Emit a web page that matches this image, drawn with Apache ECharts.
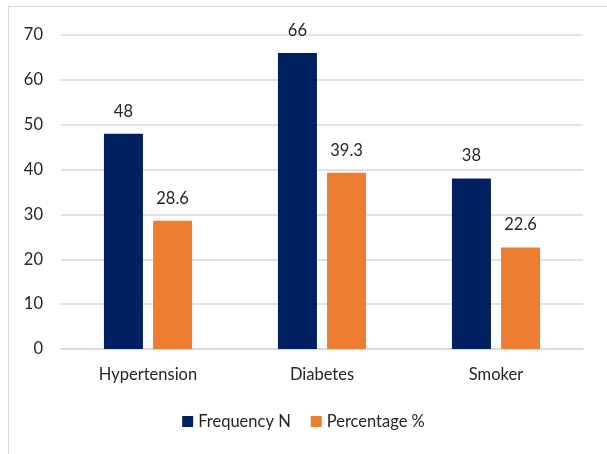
<!DOCTYPE html>
<html>
<head>
<meta charset="utf-8">
<script src="https://cdn.jsdelivr.net/npm/echarts@6/dist/echarts.min.js"></script>
<style>
  html, body { margin: 0; padding: 0; background: #fff; }
  #frame { position: absolute; left: 8px; top: 6px; width: 620px; height: 470px; border: 1px solid #d9d9d9; box-sizing: border-box; }
  #chart { position: absolute; left: 0; top: 0; width: 607px; height: 454px; }
</style>
</head>
<body>
<div id="frame"></div>
<div id="chart"></div>
<script>
const categories = ["Hypertension", "Diabetes", "Smoker"];
const frequencyN = [48, 66, 38];
const percentage = [28.6, 39.3, 22.6];
const seriesNames = ["Frequency N", "Percentage %"];

const chart = echarts.init(document.getElementById("chart"));
const font = "Lato, 'Open Sans', sans-serif";
const textColor = "#262626";

chart.setOption({
  animation: false,
  textStyle: { fontFamily: font },
  grid: { left: 61, right: 24, top: 35, bottom: 105 },
  legend: {
    data: seriesNames,
    bottom: 19,
    left: "center",
    itemWidth: 11,
    itemHeight: 11,
    itemGap: 20,
    icon: "rect",
    textStyle: { fontSize: 16.5, color: textColor, fontFamily: font }
  },
  xAxis: {
    type: "category",
    data: categories,
    axisLine: { lineStyle: { color: "#d9d9d9", width: 1.5 } },
    axisTick: { show: false },
    axisLabel: { fontSize: 16.5, color: textColor, margin: 17 }
  },
  yAxis: {
    type: "value",
    min: 0,
    max: 70,
    interval: 10,
    axisLine: { show: false },
    axisTick: { show: false },
    axisLabel: { fontSize: 16.5, color: textColor, margin: 18 },
    splitLine: { lineStyle: { color: "#d9d9d9", width: 1.5 } }
  },
  series: [
    {
      name: seriesNames[0],
      type: "bar",
      data: frequencyN,
      barWidth: 39,
      barGap: "26%",
      itemStyle: { color: "#002060" },
      label: { show: true, position: "top", distance: 14, fontSize: 16.5, color: textColor }
    },
    {
      name: seriesNames[1],
      type: "bar",
      data: percentage,
      barWidth: 39,
      itemStyle: { color: "#ED7D31" },
      label: { show: true, position: "top", distance: 14, fontSize: 16.5, color: textColor }
    }
  ]
});
</script>
</body>
</html>
